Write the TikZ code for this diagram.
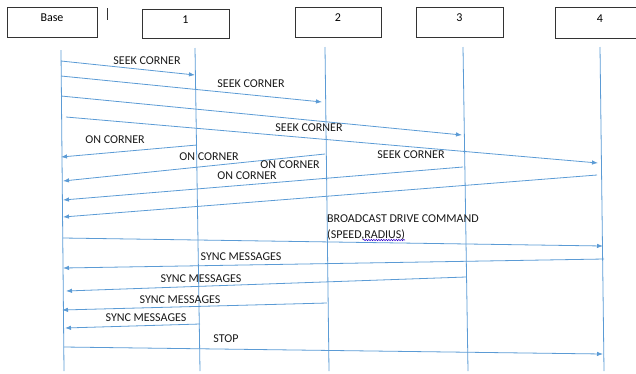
\documentclass[tikz,border=0pt]{standalone}
\usepackage{fontspec}
\setmainfont{Carlito}
\usetikzlibrary{arrows.meta,calc,decorations.pathmorphing}
\definecolor{linkblue}{RGB}{91,155,213}
\tikzset{
  unit/.style={
    draw=black!80,
    line width=0.9pt,
    inner sep=0pt,
    minimum height=30pt,
    text depth=8pt,
    font=\fontsize{12}{14}\selectfont,
  },
  life/.style={linkblue, line width=0.8pt},
  msg/.style={linkblue, line width=0.8pt, -{Latex[length=6pt,width=4.5pt]}},
  lbl/.style={inner sep=0pt, text=black!90, font=\fontsize{12}{14}\selectfont},
}

\begin{document}
\begin{tikzpicture}[x=1pt,y=-1pt]
  \useasboundingbox (0,0) rectangle (636,373);
  \clip (0,0) rectangle (636,373);

  % the units on top
  \node[unit,minimum width=90pt] (base) at (52,22) {Base};
  \node[unit,minimum width=87pt,minimum height=29pt] (n1) at (185.5,23.5) {1};
  \node[unit,minimum width=86pt] (n2) at (338,22) {2};
  \node[unit,minimum width=87pt] (n3) at (459.5,22) {3};
  \node[unit,minimum width=90pt,minimum height=31pt] (n4) at (600,22.5) {4};
  \draw[black!80,line width=0.9pt] (107,8) -- (107,20);

  % lifelines
  \foreach \name/\xa/\ya/\xb in {l0/61/50/64, l1/195/48/200, l2/325/47/329, l3/463/47/468, l4/600/47/604}{
    \coordinate (\name a) at (\xa,\ya);
    \coordinate (\name b) at (\xb,371);
  }
  \foreach \name in {l0,l1,l2,l3,l4}
    \draw[life] (\name a) -- (\name b);

  % message end points
  \foreach \name/\xs/\ys/\xe/\ye in {
      m1/61/61/195/75, m2/61/76/322/102, m3/61/96/462/135, m4/66/117/598/163,
      m5/197/145/61/157, m6/325/154/63/181, m7/463/167/63/200, m8/597/175/63/217,
      m9/63/238/603/246, m10/604/259/63/268, m11/466/277/66/291, m12/327/303/62/310,
      m13/200/324/65/328, m14/64/347/603/354}{
    \coordinate (\name s) at (\xs,\ys);
    \coordinate (\name e) at (\xe,\ye);
  }
  \foreach \i in {1,...,14}
    \draw[msg] (m\i s) -- (m\i e);

  % labels
  \node[lbl] (t1) at (147,61) {SEEK CORNER};
  \node[lbl] (t2) at (251,84) {SEEK CORNER};
  \node[lbl] (t3) at (309,128) {SEEK CORNER};
  \node[lbl] (t4) at (411,155) {SEEK CORNER};
  \node[lbl] (t5) at (115,140) {ON CORNER};
  \node[lbl] (t6) at (209,157) {ON CORNER};
  \node[lbl] (t7) at (290,165) {ON CORNER};
  \node[lbl] (t8) at (247,176) {ON CORNER};
  \node[lbl,anchor=west,align=left,font=\fontsize{12}{16}\selectfont] (t9) at (327,227)
    {BROADCAST DRIVE COMMAND\\(SPEED,RADIUS)};
  \draw[blue!60!violet,line width=0.5pt,decorate,
    decoration={snake,amplitude=0.7pt,segment length=2.5pt}] (363,240) -- (405,240);
  \node[lbl] (t10) at (241,257) {SYNC MESSAGES};
  \node[lbl] (t11) at (201,279) {SYNC MESSAGES};
  \node[lbl] (t12) at (180,300) {SYNC MESSAGES};
  \node[lbl] (t13) at (146,318) {SYNC MESSAGES};
  \node[lbl] (t14) at (226,339) {STOP};
\end{tikzpicture}
\end{document}
